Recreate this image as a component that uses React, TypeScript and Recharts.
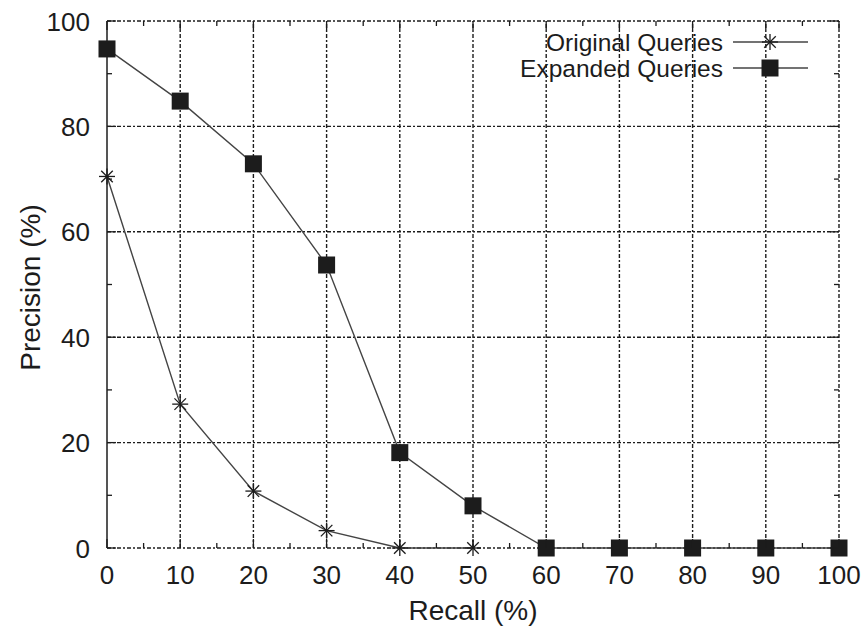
import React from "react";
import {
  LineChart,
  Line,
  XAxis,
  YAxis,
  ReferenceLine,
  Legend,
  Label,
} from "recharts";

const recall = [0, 10, 20, 30, 40, 50, 60, 70, 80, 90, 100];
const originalQueries = [70.5, 27.3, 10.8, 3.3, 0, 0, null, null, null, null, null];
const expandedQueries = [94.7, 84.8, 72.9, 53.7, 18.1, 8.0, 0, 0, 0, 0, 0];

const xTicks = [0, 5, 10, 15, 20, 25, 30, 35, 40, 45, 50, 55, 60, 65, 70, 75, 80, 85, 90, 95, 100];
const yTicks = [0, 10, 20, 30, 40, 50, 60, 70, 80, 90, 100];
const xGrid = [10, 20, 30, 40, 50, 60, 70, 80, 90, 100];
const yGrid = [0, 20, 40, 60, 80, 100];

const data = recall.map((r, i) => ({
  recall: r,
  original: originalQueries[i],
  expanded: expandedQueries[i],
}));

const W = 867;
const H = 629;
const M = { top: 21, right: 28, left: 0, bottom: 0 };
const Y_W = 107;
const X_H = 81;
const PLOT_W = W - M.left - M.right - Y_W;
const PLOT_H = H - M.top - M.bottom - X_H;

const FONT = "'Liberation Sans', Arial, Helvetica, sans-serif";
const INK = "#1c1c1c";
const LINE = "#444";
const DASH = "4 2 2 2";

function XTick({ x, y, payload }: any) {
  const v = payload.value;
  const major = v % 10 === 0;
  const len = major ? 9 : 5;
  return (
    <g>
      <line x1={x} y1={y} x2={x} y2={y - len} stroke={INK} strokeWidth={1.3} />
      <line x1={x} y1={y - PLOT_H} x2={x} y2={y - PLOT_H + len} stroke={INK} strokeWidth={1.3} />
      {major && (
        <text x={x} y={y + 36} textAnchor="middle" fontSize={26} fill={INK} fontFamily={FONT}>
          {v}
        </text>
      )}
    </g>
  );
}

function YTick({ x, y, payload }: any) {
  const v = payload.value;
  const major = v % 20 === 0;
  const len = major ? 9 : 5;
  return (
    <g>
      <line x1={x} y1={y} x2={x + len} y2={y} stroke={INK} strokeWidth={1.3} />
      <line x1={x + PLOT_W} y1={y} x2={x + PLOT_W - len} y2={y} stroke={INK} strokeWidth={1.3} />
      {major && (
        <text x={x - 17} y={y + 9.5} textAnchor="end" fontSize={26} fill={INK} fontFamily={FONT}>
          {v}
        </text>
      )}
    </g>
  );
}

function Star({ cx, cy, r = 8 }: { cx: number; cy: number; r?: number }) {
  const d = r * 0.72;
  return (
    <g stroke={INK} strokeWidth={1.3}>
      <line x1={cx - r} y1={cy} x2={cx + r} y2={cy} />
      <line x1={cx} y1={cy - r} x2={cx} y2={cy + r} />
      <line x1={cx - d} y1={cy - d} x2={cx + d} y2={cy + d} />
      <line x1={cx - d} y1={cy + d} x2={cx + d} y2={cy - d} />
    </g>
  );
}

function Square({ cx, cy, s = 17 }: { cx: number; cy: number; s?: number }) {
  return <rect x={cx - s / 2} y={cy - s / 2} width={s} height={s} fill={INK} />;
}

function starDot(props: any) {
  const { cx, cy, value, index } = props;
  if (value == null || cx == null || cy == null) return <g key={`o-${index}`} />;
  return (
    <g key={`o-${index}`}>
      <Star cx={cx} cy={cy} />
    </g>
  );
}

function squareDot(props: any) {
  const { cx, cy, value, index } = props;
  if (value == null || cx == null || cy == null) return <g key={`e-${index}`} />;
  return (
    <g key={`e-${index}`}>
      <Square cx={cx} cy={cy} />
    </g>
  );
}

function LegendBox() {
  const rows = [
    { name: "Original Queries", kind: "star" },
    { name: "Expanded Queries", kind: "square" },
  ];
  return (
    <svg width={340} height={64} style={{ display: "block", overflow: "visible" }}>
      {rows.map((row, i) => {
        const cy = 18 + i * 26;
        return (
          <g key={row.name}>
            <text x={243} y={cy + 8.5} textAnchor="end" fontSize={24.5} fill={INK} fontFamily={FONT}>
              {row.name}
            </text>
            <line x1={253} y1={cy} x2={328} y2={cy} stroke={LINE} strokeWidth={1.3} />
            {row.kind === "star" ? <Star cx={290} cy={cy} /> : <Square cx={290} cy={cy} />}
          </g>
        );
      })}
    </svg>
  );
}

function YTitle({ viewBox }: any) {
  const cx = viewBox.x + 30;
  const cy = viewBox.y + viewBox.height / 2 + 3;
  return (
    <text
      x={cx}
      y={cy}
      transform={`rotate(-90 ${cx} ${cy})`}
      textAnchor="middle"
      dominantBaseline="central"
      fontSize={28}
      fill={INK}
      fontFamily={FONT}
    >
      Precision (%)
    </text>
  );
}

export default function App() {
  return (
    <div style={{ position: "absolute", left: 0, top: 0, width: W, height: H, background: "#fff" }}>
      <LineChart width={W} height={H} data={data} margin={M}>
        <XAxis
          dataKey="recall"
          type="number"
          domain={[0, 100]}
          ticks={xTicks}
          interval={0}
          axisLine={false}
          tickLine={false}
          tickSize={0}
          tickMargin={0}
          height={X_H}
          tick={<XTick />}
        >
          <Label
            value="Recall (%)"
            position="insideBottom"
            offset={9}
            fontSize={28}
            fill={INK}
            fontFamily={FONT}
          />
        </XAxis>
        <YAxis
          type="number"
          domain={[0, 100]}
          ticks={yTicks}
          interval={0}
          axisLine={{ stroke: INK, strokeWidth: 1.5 }}
          tickLine={false}
          tickSize={0}
          tickMargin={0}
          width={Y_W}
          tick={<YTick />}
          label={<YTitle />}
        />
        {xGrid.map((v) => (
          <ReferenceLine key={`gx-${v}`} x={v} stroke={INK} strokeWidth={1.4} strokeDasharray={DASH} />
        ))}
        {yGrid.map((v) => (
          <ReferenceLine key={`gy-${v}`} y={v} stroke={INK} strokeWidth={1.4} strokeDasharray={DASH} />
        ))}
        <Legend
          layout="vertical"
          align="center"
          verticalAlign="middle"
          wrapperStyle={{ left: 480, top: 24, width: 340, height: 64 }}
          content={() => <LegendBox />}
        />
        <Line
          dataKey="original"
          stroke={LINE}
          strokeWidth={1.4}
          dot={starDot}
          activeDot={false}
          isAnimationActive={false}
          connectNulls={false}
        />
        <Line
          dataKey="expanded"
          stroke={LINE}
          strokeWidth={1.4}
          dot={squareDot}
          activeDot={false}
          isAnimationActive={false}
        />
      </LineChart>
    </div>
  );
}
